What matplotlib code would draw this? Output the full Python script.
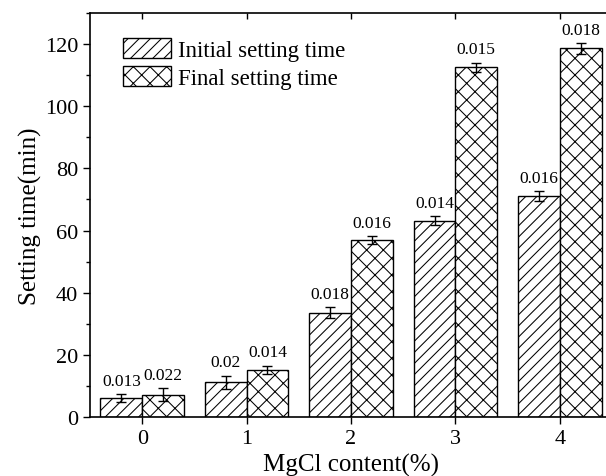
import matplotlib
matplotlib.use("Agg")
import matplotlib.pyplot as plt
import numpy as np
from matplotlib.ticker import MultipleLocator

categories = ["0", "1", "2", "3", "4"]
initial_vals = [6.0, 11.2, 33.5, 63.2, 71.1]
initial_err = [1.3, 2.1, 1.8, 1.4, 1.5]
final_vals = [7.2, 15.1, 56.9, 112.5, 118.6]
final_err = [2.1, 1.3, 1.3, 1.5, 1.7]
initial_labels = ["0.013", "0.02", "0.018", "0.014", "0.016"]
final_labels = ["0.022", "0.014", "0.016", "0.015", "0.018"]

plt.rcParams['font.family'] = ['Liberation Serif', 'DejaVu Serif']
plt.rcParams['hatch.linewidth'] = 0.75

fig = plt.figure(figsize=(6.06, 4.77), dpi=100)
ax = fig.add_axes([90/606, 59/477, 522/606, 404/477])

x = np.arange(len(categories))
w = 0.4
ekw = dict(ecolor='black', elinewidth=1.0, capsize=3.5, capthick=1.0)
ax.bar(x - w/2, initial_vals, w, yerr=initial_err, facecolor='white', edgecolor='black',
       hatch='///', linewidth=1.0, label='Initial setting time', error_kw=ekw)
ax.bar(x + w/2, final_vals, w, yerr=final_err, facecolor='white', edgecolor='black',
       hatch='xx', linewidth=1.0, label='Final setting time', error_kw=ekw)

for xi, v, e, t in zip(x - w/2, initial_vals, initial_err, initial_labels):
    ax.annotate(t, (xi, v + e), xytext=(0, 4), textcoords='offset points',
                ha='center', va='bottom', fontsize=12.5)
for xi, v, e, t in zip(x + w/2, final_vals, final_err, final_labels):
    ax.annotate(t, (xi, v + e), xytext=(0, 4), textcoords='offset points',
                ha='center', va='bottom', fontsize=12.5)

ax.set_xlim(-0.5, 4.5)
ax.set_ylim(0, 130)
ax.set_xticks(x)
ax.set_xticklabels(categories)
ax.yaxis.set_major_locator(MultipleLocator(20))
ax.yaxis.set_minor_locator(MultipleLocator(10))
ax.tick_params(axis='both', which='major', labelsize=16, direction='out', length=5, width=1)
ax.tick_params(axis='y', which='minor', direction='out', length=3, width=1)
ax.tick_params(axis='x', which='major', top=True, labeltop=False)
ax.tick_params(axis='x', which='minor', bottom=False)
for tl in ax.xaxis.get_majorticklines()[1::2]:
    tl.set_marker(3)  # tick pointing down (inward on top spine)
    tl.set_markersize(4)

for s in ax.spines.values():
    s.set_linewidth(1.2)

ax.set_xlabel('MgCl content(%)', fontsize=18, labelpad=4)
ax.set_ylabel('Setting time(min)', fontsize=18, labelpad=2)

ax.legend(loc='upper left', bbox_to_anchor=(0.063, 0.937), frameon=False,
          fontsize=16.5, handlelength=2.1, handleheight=0.95, handletextpad=0.3,
          labelspacing=0.2, borderpad=0, borderaxespad=0)

fig.savefig('out.png', dpi=100)
